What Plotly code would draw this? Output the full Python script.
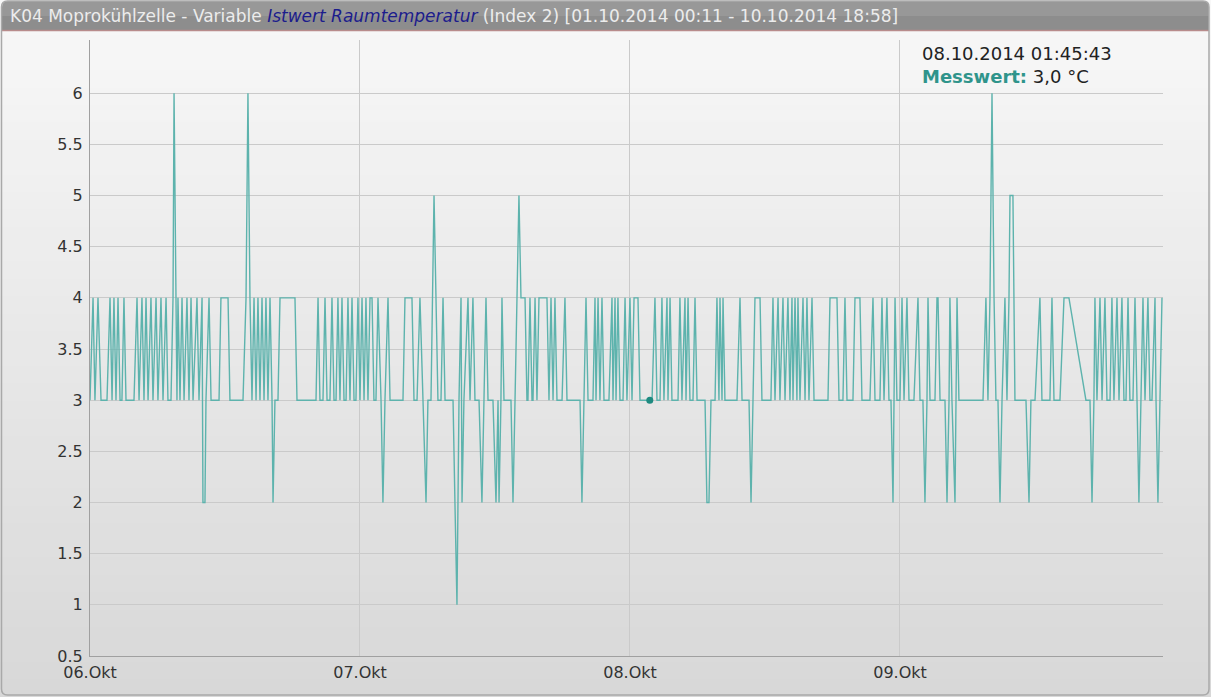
import plotly.graph_objects as go
import pandas as pd

# ---------------- data (hours since 06.10.2014 00:00, °C) ----------------
hours_day1 = [0.00, 0.27, 0.44, 0.71, 0.98, 1.51, 1.78, 1.96, 2.13, 2.31, 2.49, 2.67, 2.84, 3.02, 3.20, 3.91,
              4.18, 4.36, 4.62, 4.80, 4.98, 5.16, 5.42, 5.60, 5.87, 6.04, 6.31, 6.49, 6.76, 6.93, 7.20, 7.38,
              7.47, 7.64, 7.73, 7.82, 8.00, 8.18, 8.36, 8.62, 8.80, 8.98, 9.16, 9.51, 9.69, 9.96, 10.04, 10.22,
              10.31, 10.58, 10.76, 11.47, 11.64, 12.27, 12.44, 13.60, 13.87, 14.04, 14.22, 14.40, 14.58, 14.76,
              14.93, 15.11, 15.29, 15.47, 15.64, 15.82, 16.00, 16.18, 16.27, 16.44, 16.71, 16.89, 18.22, 18.40,
              20.09, 20.27, 20.44, 20.71, 20.89, 21.07, 21.33, 21.51, 21.69, 21.87, 22.04, 22.22, 22.40, 22.58,
              22.76, 22.93, 23.11, 23.29, 23.47, 23.64, 23.82, 24.00]
temps_day1 = [3, 4, 3, 4, 3, 3, 4, 3, 4, 3, 4, 3, 3, 4, 3, 3,
              4, 3, 4, 3, 4, 3, 4, 3, 4, 3, 4, 3, 4, 3, 3, 4,
              6, 4, 3, 4, 3, 4, 3, 4, 3, 4, 3, 4, 3, 4, 2, 2,
              3, 4, 3, 3, 4, 4, 3, 3, 4, 6, 4, 3, 4, 3,
              4, 3, 4, 3, 4, 3, 4, 3, 2, 3, 3, 4, 4, 3,
              3, 4, 3, 3, 4, 3, 3, 4, 3, 3, 4, 3, 4, 3,
              3, 4, 3, 4, 3, 3, 4, 3]

hours_day2 = [24.18, 24.36, 24.53, 24.71, 24.89, 25.07, 25.24, 25.42, 25.60, 25.87, 26.04, 26.22, 26.49, 26.67,
              27.82, 28.00, 28.62, 28.80, 29.07, 29.33, 29.60, 29.87, 30.04, 30.31, 30.58, 30.76, 30.93, 31.20,
              31.38, 31.56, 32.27, 32.44, 32.62, 32.80, 32.98, 33.07, 33.24, 33.60, 33.78, 34.04, 34.22, 34.58,
              34.84, 35.02, 35.20, 35.38, 35.82, 36.09, 36.27, 36.36, 36.53, 36.62, 36.80, 37.42, 37.60, 37.78,
              37.96, 38.13, 38.31, 38.67, 38.84, 38.93, 39.11, 39.29, 39.38, 39.56, 39.73, 39.91, 40.62, 40.80,
              40.98, 41.16, 41.33, 41.51, 41.96, 42.22, 42.40, 43.56, 43.73, 43.91, 44.09, 44.27, 44.71, 44.89,
              44.98, 45.16, 45.33, 45.51, 45.69, 46.13, 46.40, 46.49, 46.67, 46.76, 46.93, 47.11, 47.38, 47.56,
              47.73, 48.00]
temps_day2 = [4, 3, 4, 3, 4, 4, 3, 3, 4, 3, 2, 3, 4, 3,
              3, 4, 4, 3, 3, 4, 3, 2, 3, 3, 5, 4, 3, 3,
              4, 3, 3, 2, 1, 3, 4, 2, 3, 4, 3, 4, 3, 3,
              2, 3, 4, 3, 3, 2, 3, 2, 3, 4, 3, 3, 2, 3,
              4, 5, 4, 4, 3, 3, 4, 3, 3, 4, 3, 4, 4, 3,
              4, 3, 4, 3, 3, 4, 3, 3, 2, 3, 4, 3, 3, 4,
              3, 4, 3, 4, 3, 3, 4, 3, 4, 3, 4, 3, 3, 4,
              3, 4]

hours_day3 = [48.18, 48.36, 48.71, 48.89, 49.76, 49.96, 50.22, 50.40, 50.67, 50.84, 51.02, 51.29, 51.38, 51.56,
              51.73, 52.27, 52.44, 52.62, 52.89, 52.98, 53.16, 53.33, 53.60, 53.78, 53.96, 54.67, 54.84, 55.02,
              55.20, 55.56, 55.73, 55.91, 56.00, 56.18, 56.27, 56.44, 57.51, 57.78, 57.96, 58.58, 58.76, 58.93,
              59.11, 59.56, 59.73, 60.53, 60.71, 60.89, 61.16, 61.33, 61.60, 61.78, 62.04, 62.22, 62.40, 62.49,
              62.67, 62.84, 62.93, 63.11, 63.38, 63.56, 63.73, 63.91, 64.18, 64.36, 65.60, 65.78, 66.40, 66.58,
              66.93, 67.11, 67.29, 67.82, 68.00, 68.44, 68.62, 69.33, 69.60, 69.78, 70.22, 70.40, 70.58, 70.84,
              71.02, 71.20, 71.38, 71.47, 71.56, 71.73, 72.00]
temps_day3 = [3, 4, 4, 3, 3, 3, 4, 3, 3, 4, 3, 4, 3, 4,
              3, 3, 4, 3, 4, 3, 4, 3, 3, 4, 3, 3, 2, 2,
              3, 3, 4, 3, 4, 3, 4, 3, 3, 4, 3, 3, 2, 3,
              4, 4, 3, 3, 4, 3, 4, 3, 4, 3, 4, 3, 4, 3,
              4, 3, 4, 3, 4, 3, 4, 3, 4, 3, 3, 4, 4, 3,
              3, 4, 3, 3, 4, 4, 3, 3, 4, 3, 3, 4, 3, 4,
              3, 3, 2, 3, 4, 3, 3]

hours_day4 = [72.18, 72.36, 72.62, 72.80, 73.24, 73.60, 73.78, 74.04, 74.22, 74.40, 74.49, 74.67, 75.11, 75.29,
              75.38, 75.56, 76.00, 76.18, 76.36, 76.44, 76.62, 76.89, 77.07, 77.24, 79.38, 79.64, 79.82, 80.00,
              80.18, 80.36, 80.53, 80.71, 80.89, 81.07, 81.33, 81.51, 81.69, 81.78, 82.04, 82.22, 83.20, 83.47,
              83.64, 84.00, 84.44, 84.62, 85.33, 85.51, 85.69, 86.22, 86.58, 87.02, 88.53, 88.89, 89.07, 89.24,
              89.33, 89.51, 89.78, 89.96, 90.22, 90.40, 90.67, 90.84, 91.02, 91.29, 91.47, 91.73, 91.91, 92.09,
              92.27, 92.44, 92.71, 92.89, 93.07, 93.24, 93.42, 93.60, 93.78, 94.04, 94.22, 94.40, 94.67, 94.76,
              94.93, 95.11, 95.29]
temps_day4 = [4, 3, 4, 3, 3, 4, 3, 3, 2, 3, 4, 3, 3, 4,
              4, 3, 3, 2, 3, 4, 3, 2, 4, 3, 3, 4, 3, 4,
              6, 4, 3, 3, 2, 3, 4, 3, 4, 5, 5, 3, 3, 2,
              3, 3, 4, 3, 3, 4, 3, 3, 4, 4, 3, 3, 2, 3,
              4, 3, 4, 3, 4, 3, 3, 4, 3, 4, 3, 4, 3, 3,
              4, 3, 3, 4, 3, 2, 3, 4, 3, 4, 3, 3, 4, 3,
              2, 3, 4]

marker_hour = 49.76
marker_value = 3.0
marker_label_time = "08.10.2014 01:45:43"
series_name = "Messwert"
unit = "°C"

y_tick_values = [0.5, 1, 1.5, 2, 2.5, 3, 3.5, 4, 4.5, 5, 5.5, 6]
y_tick_labels = ["0.5", "1", "1.5", "2", "2.5", "3", "3.5", "4", "4.5", "5", "5.5", "6"]
x_tick_dates = ["2014-10-06", "2014-10-07", "2014-10-08", "2014-10-09"]
x_tick_labels = ["06.Okt", "07.Okt", "08.Okt", "09.Okt"]

title_part1 = "K04 Moprokühlzelle - Variable "
title_var = "Istwert Raumtemperatur"
title_part2 = " (Index 2) [01.10.2014 00:11 - 10.10.2014 18:58]"

# ---------------- build ----------------
start = pd.Timestamp("2014-10-06 00:00:00")
hours = hours_day1 + hours_day2 + hours_day3 + hours_day4
temps = temps_day1 + temps_day2 + temps_day3 + temps_day4
times = start + pd.to_timedelta(hours, unit="h")
x_end = start + pd.to_timedelta(95.38, unit="h")

W, H = 1211, 697
ML, MR, MT, MB = 90, 48, 40, 41
PW, PH = W - ML - MR, H - MT - MB


def px(X):
    return (X - ML) / PW


def py(Y):
    return (H - MB - Y) / PH


LINE = "#5db3ad"
TEAL_TXT = "#2f948b"

fig = go.Figure()
fig.add_trace(go.Scatter(x=times, y=temps, mode="lines",
                         line=dict(color=LINE, width=1.4), hoverinfo="skip", showlegend=False))
fig.add_trace(go.Scatter(x=[start + pd.to_timedelta(marker_hour, unit="h")], y=[marker_value],
                         mode="markers", marker=dict(color="#1e8a80", size=7),
                         hoverinfo="skip", showlegend=False))

shapes = []
# background vertical gradient
n = 40
c0, c1 = 248, 216
for i in range(n):
    g = round(c0 + (c1 - c0) * i / (n - 1))
    col = f"rgb({g},{g},{g})"
    y0 = H * i / n
    y1 = H * (i + 1) / n + 1
    shapes.append(dict(type="rect", xref="paper", yref="paper", layer="below",
                       x0=px(0), x1=px(W), y0=py(y1), y1=py(y0),
                       fillcolor=col, line=dict(width=0)))


def rounded_path(x0, y0, x1, y1, r, top_only=False):
    a = lambda X: px(X)
    b = lambda Y: py(Y)
    if top_only:
        return (f"M {a(x0)},{b(y1)} L {a(x0)},{b(y0 + r)} Q {a(x0)},{b(y0)} {a(x0 + r)},{b(y0)} "
                f"L {a(x1 - r)},{b(y0)} Q {a(x1)},{b(y0)} {a(x1)},{b(y0 + r)} L {a(x1)},{b(y1)} Z")
    return (f"M {a(x0 + r)},{b(y0)} L {a(x1 - r)},{b(y0)} Q {a(x1)},{b(y0)} {a(x1)},{b(y0 + r)} "
            f"L {a(x1)},{b(y1 - r)} Q {a(x1)},{b(y1)} {a(x1 - r)},{b(y1)} L {a(x0 + r)},{b(y1)} "
            f"Q {a(x0)},{b(y1)} {a(x0)},{b(y1 - r)} L {a(x0)},{b(y0 + r)} Q {a(x0)},{b(y0)} {a(x0 + r)},{b(y0)} Z")


# title bar
shapes.append(dict(type="path", xref="paper", yref="paper", layer="below",
                   path=rounded_path(2, 1, W - 2, 30, 6, top_only=True),
                   fillcolor="#8d8d8d", line=dict(width=0)))
shapes.append(dict(type="rect", xref="paper", yref="paper", layer="below",
                   x0=px(2), x1=px(W - 2), y0=py(16), y1=py(1),
                   fillcolor="rgba(255,255,255,0.10)", line=dict(width=0)))
shapes.append(dict(type="line", xref="paper", yref="paper", layer="above",
                   x0=px(2), x1=px(W - 2), y0=py(30.5), y1=py(30.5),
                   line=dict(color="#b88c8c", width=1.5)))
# outer border
shapes.append(dict(type="path", xref="paper", yref="paper", layer="above",
                   path=rounded_path(1.5, 1, W - 2, H - 2, 6),
                   fillcolor="rgba(0,0,0,0)", line=dict(color="#a9a9a9", width=1.5)))

value_text = f"{marker_value:.1f}".replace(".", ",")
annotations = [
    dict(xref="paper", yref="paper", x=px(8), y=py(16), xanchor="left", yanchor="middle",
         showarrow=False, align="left",
         text=(f"<span style='color:#ececec'>{title_part1}</span>"
               f"<i><span style='color:#1c1c8c'>{title_var}</span></i>"
               f"<span style='color:#ececec'>{title_part2}</span>"),
         font=dict(family="DejaVu Sans", size=17)),
    dict(xref="paper", yref="paper", x=px(920), y=py(41), xanchor="left", yanchor="top",
         showarrow=False, align="left",
         text=(f"{marker_label_time}<br><b><span style='color:{TEAL_TXT}'>{series_name}:</span></b> "
               f"{value_text} {unit}"),
         font=dict(family="DejaVu Sans", size=18, color="#222222")),
]

fig.update_layout(
    width=W, height=H,
    margin=dict(l=ML, r=MR, t=MT, b=MB, pad=0),
    paper_bgcolor="#e4e4e4",
    plot_bgcolor="rgba(0,0,0,0)",
    shapes=shapes,
    annotations=annotations,
    font=dict(family="DejaVu Sans", size=16, color="#333333"),
    xaxis=dict(range=[start, x_end], tickvals=pd.to_datetime(x_tick_dates), ticktext=x_tick_labels,
               showgrid=True, gridcolor="#cacaca", gridwidth=1, zeroline=False,
               showline=True, linecolor="#a0a0a0", linewidth=1, ticks="", ticklabelstandoff=2,
               tickfont=dict(family="DejaVu Sans", size=16, color="#333333")),
    yaxis=dict(range=[0.5, 6.52], tickvals=y_tick_values, ticktext=y_tick_labels,
               showgrid=True, gridcolor="#cacaca", gridwidth=1, zeroline=False,
               showline=True, linecolor="#a0a0a0", linewidth=1, ticks="", ticklabelstandoff=3,
               tickfont=dict(family="DejaVu Sans", size=16, color="#333333")),
)

fig.write_html("out.html", config={"displayModeBar": False},
               post_script="document.body.style.margin='0px';")
